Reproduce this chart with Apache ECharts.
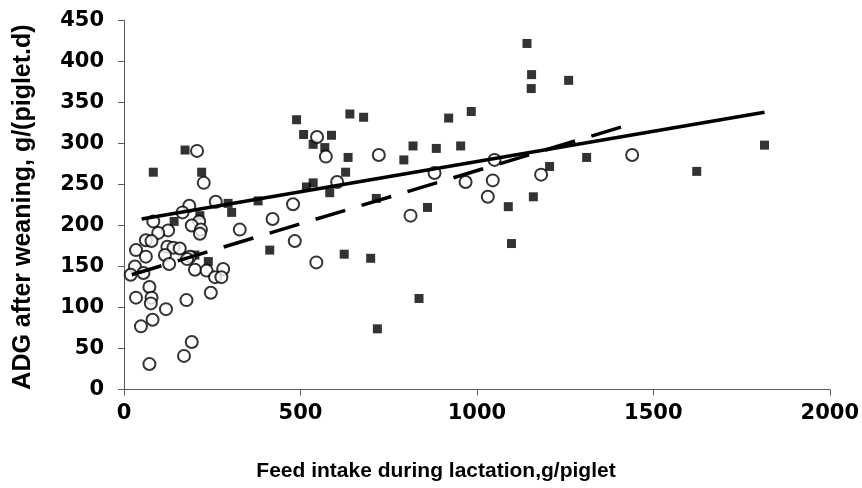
<!DOCTYPE html>
<html>
<head>
<meta charset="utf-8">
<script src="https://cdn.jsdelivr.net/npm/echarts@6/dist/echarts.min.js"></script>
<style>
  html, body { margin: 0; padding: 0; background: #fff; }
  #chart { width: 862px; height: 488px; }
</style>
</head>
<body>
<div id="chart"></div>
<script>
// Filled squares: [feed intake g/piglet, ADG g/(piglet.d)]
const squarePoints = [
  [83, 265], [173, 292], [220, 265], [142, 205], [201, 164], [239, 156],
  [295, 227], [305, 216], [380, 230], [413, 170], [215, 212],
  [489, 329], [509, 311], [640, 336], [679, 332], [588, 310], [536, 299],
  [569, 295], [635, 283], [628, 265], [536, 252], [517, 247], [583, 240],
  [715, 233], [793, 280], [819, 297], [885, 294], [920, 331], [954, 297],
  [984, 339], [860, 222], [624, 165], [699, 160], [836, 111], [718, 74],
  [1142, 422], [1155, 384], [1154, 367], [1089, 223], [1098, 178], [1160, 235],
  [1260, 377], [1206, 272], [1311, 283], [1623, 266], [1815, 298]
];

// Open circles: [feed intake g/piglet, ADG g/(piglet.d)]
const circlePoints = [
  [207, 291], [226, 252], [185, 224], [260, 229], [166, 216], [83, 205],
  [213, 205], [192, 200], [218, 195], [215, 190], [125, 194], [97, 191],
  [62, 182], [78, 181], [328, 195], [421, 208], [479, 226], [484, 181],
  [34, 170], [62, 162], [123, 174], [140, 173], [158, 172], [116, 164],
  [128, 153], [187, 162], [179, 159], [31, 150], [19, 140], [55, 142],
  [201, 146], [234, 145], [281, 147], [258, 137], [276, 137], [72, 125],
  [34, 112], [78, 112], [76, 105], [119, 98], [177, 109], [246, 118],
  [81, 85], [48, 77], [192, 58], [170, 41], [72, 31],
  [547, 308], [572, 284], [722, 286], [604, 253], [880, 264], [968, 253],
  [1045, 255], [1050, 280], [1031, 235], [812, 212], [545, 155], [1182, 262],
  [1440, 286]
];

// Fitted trend lines (end points)
const squareTrend = [[50, 208], [1815, 338]];
const circleTrend = [[22, 140], [1440, 324]];

// Axis settings
const xTicks = { min: 0, max: 2000, interval: 500 };
const yTicks = { min: 0, max: 450, interval: 50 };
const xTitle = 'Feed intake during lactation,g/piglet';
const yTitle = 'ADG after weaning, g/(piglet.d)';

const titleFont = 'Liberation Sans, Arial, sans-serif';
const tickFont = 'DejaVu Sans, Liberation Sans, sans-serif';
const axisColor = '#5a5a5a';

const chart = echarts.init(document.getElementById('chart'), null, { renderer: 'canvas' });

chart.setOption({
  backgroundColor: '#ffffff',
  animation: false,
  grid: { left: 124, right: 31, top: 20.5, bottom: 98.5, containLabel: false },
  graphic: [
    {
      type: 'text',
      x: 436, y: 471,
      style: {
        text: xTitle, x: 0, y: 0,
        font: 'bold 21px ' + titleFont,
        fill: '#000', align: 'center', verticalAlign: 'middle'
      }
    },
    {
      type: 'text',
      x: 23, y: 207,
      rotation: Math.PI / 2,
      style: {
        text: yTitle, x: 0, y: 0,
        font: 'bold 25px ' + titleFont,
        fill: '#000', align: 'center', verticalAlign: 'middle'
      }
    }
  ],
  xAxis: {
    type: 'value',
    min: xTicks.min, max: xTicks.max, interval: xTicks.interval,
    axisLine: { show: true, onZero: false, lineStyle: { color: axisColor, width: 1 } },
    axisTick: { show: true, inside: false, length: 6, lineStyle: { color: axisColor } },
    axisLabel: {
      fontFamily: tickFont, fontWeight: 'bold', fontSize: 21, color: '#000', margin: 14,
      formatter: v => String(v)
    },
    splitLine: { show: false }
  },
  yAxis: {
    type: 'value',
    min: yTicks.min, max: yTicks.max, interval: yTicks.interval,
    axisLine: { show: true, lineStyle: { color: axisColor, width: 1 } },
    axisTick: { show: true, inside: false, length: 6, lineStyle: { color: axisColor } },
    axisLabel: {
      fontFamily: tickFont, fontWeight: 'bold', fontSize: 21, color: '#000', margin: 20,
      formatter: v => String(v)
    },
    splitLine: { show: false }
  },
  series: [
    {
      name: 'squares',
      type: 'scatter',
      data: squarePoints,
      symbol: 'rect',
      symbolSize: 9,
      itemStyle: { color: '#000' },
      z: 3
    },
    {
      name: 'circles',
      type: 'scatter',
      data: circlePoints,
      symbol: 'circle',
      symbolSize: 12,
      itemStyle: { color: '#fff', borderColor: '#000', borderWidth: 2 },
      z: 4
    },
    {
      name: 'square trend',
      type: 'line',
      data: squareTrend,
      symbol: 'none',
      lineStyle: { color: '#000', width: 3.5, type: 'solid' },
      z: 5
    },
    {
      name: 'circle trend',
      type: 'line',
      data: circleTrend,
      symbol: 'none',
      lineStyle: { color: '#000', width: 3.5, type: [31, 17] },
      z: 5
    }
  ]
});
</script>
</body>
</html>
